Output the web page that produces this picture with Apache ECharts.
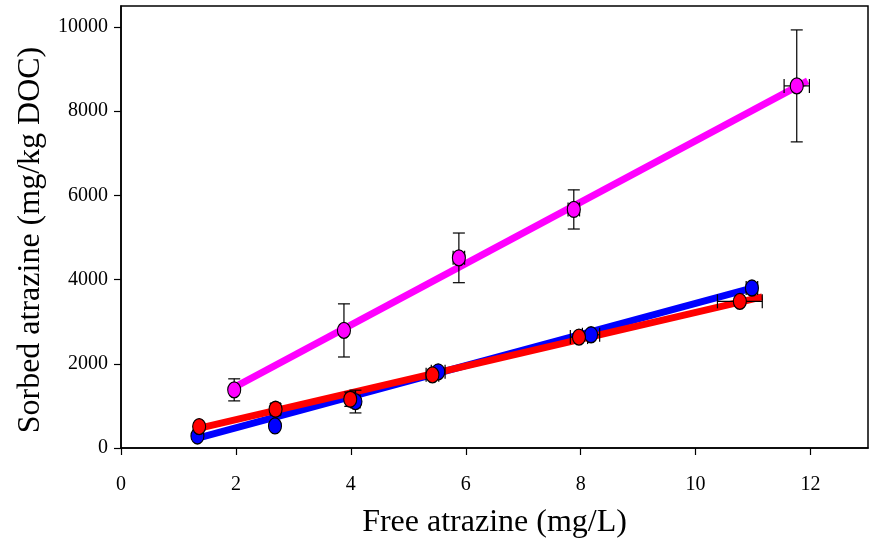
<!DOCTYPE html>
<html>
<head>
<meta charset="utf-8">
<script src="https://cdn.jsdelivr.net/npm/echarts@6/dist/echarts.min.js"></script>
<style>html,body{margin:0;padding:0;background:#fff}#c{width:877px;height:547px}</style>
</head>
<body>
<div id="c"></div>
<script>
// ---- data ----
var xTicks = [0, 2, 4, 6, 8, 10, 12];
var yTicks = [0, 2000, 4000, 6000, 8000, 10000];

var pinkX    = [1.97, 3.88, 5.88, 7.88, 11.76];
var pinkY    = [1381, 2793, 4517, 5667, 8602];
var pinkXErr = [0.05, 0.05, 0.10, 0.10, 0.22];
var pinkYErr = [262, 631, 590, 465, 1330];

var blueX    = [1.33, 2.68, 4.08, 5.52, 8.18, 10.98];
var blueY    = [286, 524, 1103, 1810, 2690, 3800];
var blueXErr = [0.05, 0.05, 0.08, 0.12, 0.15, 0.10];
var blueYErr = [80, 90, 270, 90, 70, 80];

var redX     = [1.36, 2.69, 3.99, 5.42, 7.97, 10.77];
var redY     = [508, 921, 1159, 1738, 2635, 3484];
var redXErr  = [0.05, 0.08, 0.07, 0.11, 0.15, 0.39];
var redYErr  = [90, 130, 170, 80, 80, 50];

var pinkFitX = [2.01, 11.95], pinkFitY = [1470, 8720];
var blueFitX = [1.32, 10.98], blueFitY = [230, 3800];
var redFitX  = [1.35, 11.16], redFitY  = [465, 3590];

// ---- helpers ----
function pairs(xs, ys){ return xs.map(function(x,i){ return [x, ys[i]]; }); }
function errData(xs, ys, ex, ey){ return xs.map(function(x,i){ return [x, ys[i], ex[i], ey[i]]; }); }

var FONT = 'Liberation Serif';

function errRender(params, api){
  var x = api.value(0), y = api.value(1), ex = api.value(2), ey = api.value(3);
  var top = api.coord([x, y + ey]), bot = api.coord([x, y - ey]);
  var lef = api.coord([x - ex, y]), rig = api.coord([x + ex, y]);
  var cw = 6, ch = 7;
  var st = {stroke:'#000', lineWidth:1.2};
  return {type:'group', children:[
    {type:'line', shape:{x1:top[0],y1:top[1],x2:bot[0],y2:bot[1]}, style:st},
    {type:'line', shape:{x1:top[0]-cw,y1:top[1],x2:top[0]+cw,y2:top[1]}, style:st},
    {type:'line', shape:{x1:bot[0]-cw,y1:bot[1],x2:bot[0]+cw,y2:bot[1]}, style:st},
    {type:'line', shape:{x1:lef[0],y1:lef[1],x2:rig[0],y2:rig[1]}, style:st},
    {type:'line', shape:{x1:lef[0],y1:lef[1]-ch,x2:lef[0],y2:lef[1]+ch}, style:st},
    {type:'line', shape:{x1:rig[0],y1:rig[1]-ch,x2:rig[0],y2:rig[1]+ch}, style:st}
  ]};
}

function fitSeries(xs, ys, color){
  return {type:'line', data:pairs(xs, ys), symbol:'none', z:2, silent:true,
    lineStyle:{color:color, width:7, cap:'butt'}, animation:false};
}
function errSeries(xs, ys, ex, ey){
  return {type:'custom', data:errData(xs, ys, ex, ey), renderItem:errRender, z:3, silent:true, animation:false,
    encode:{x:0, y:1}};
}
function ptSeries(xs, ys, color){
  return {type:'scatter', data:pairs(xs, ys), symbol:'circle', symbolSize:[13,16], z:4, animation:false,
    itemStyle:{color:color, borderColor:'#000', borderWidth:1.2, opacity:1}};
}
function plain(v){ return String(v); }

var chart = echarts.init(document.getElementById('c'), null, {renderer:'canvas'});
chart.setOption({
  backgroundColor:'#fff',
  animation:false,
  grid:{left:121, right:9, top:6, bottom:99, show:true, borderColor:'#000', borderWidth:1.5, backgroundColor:'transparent'},
  xAxis:{
    type:'value', min:0, max:13, interval:2,
    name:'Free atrazine (mg/L)', nameLocation:'middle', nameGap:59,
    nameTextStyle:{fontFamily:FONT, fontSize:32, color:'#000'},
    axisLine:{show:true, lineStyle:{color:'#000', width:1.5}},
    axisTick:{show:true, inside:false, length:7, lineStyle:{color:'#000', width:1.2}, customValues:xTicks},
    axisLabel:{fontFamily:FONT, fontSize:20, color:'#000', margin:27, customValues:xTicks, formatter:plain},
    splitLine:{show:false}
  },
  yAxis:{
    type:'value', min:0, max:10500, interval:2000,
    name:'Sorbed atrazine (mg/kg DOC)', nameLocation:'middle', nameGap:74,
    nameTextStyle:{fontFamily:FONT, fontSize:32, color:'#000', padding:[0, 26, 0, 0]},
    axisLine:{show:true, lineStyle:{color:'#000', width:1.5}},
    axisTick:{show:true, inside:false, length:7, lineStyle:{color:'#000', width:1.2}, customValues:yTicks},
    axisLabel:{fontFamily:FONT, fontSize:20, color:'#000', margin:13, customValues:yTicks, formatter:plain},
    splitLine:{show:false}
  },
  series:[
    fitSeries(blueFitX, blueFitY, '#0000ff'),
    fitSeries(redFitX, redFitY, '#ff0000'),
    fitSeries(pinkFitX, pinkFitY, '#ff00ff'),
    errSeries(blueX, blueY, blueXErr, blueYErr),
    errSeries(redX, redY, redXErr, redYErr),
    errSeries(pinkX, pinkY, pinkXErr, pinkYErr),
    ptSeries(blueX, blueY, '#0000ff'),
    ptSeries(redX, redY, '#ff0000'),
    ptSeries(pinkX, pinkY, '#ff00ff')
  ]
});
</script>
</body>
</html>
